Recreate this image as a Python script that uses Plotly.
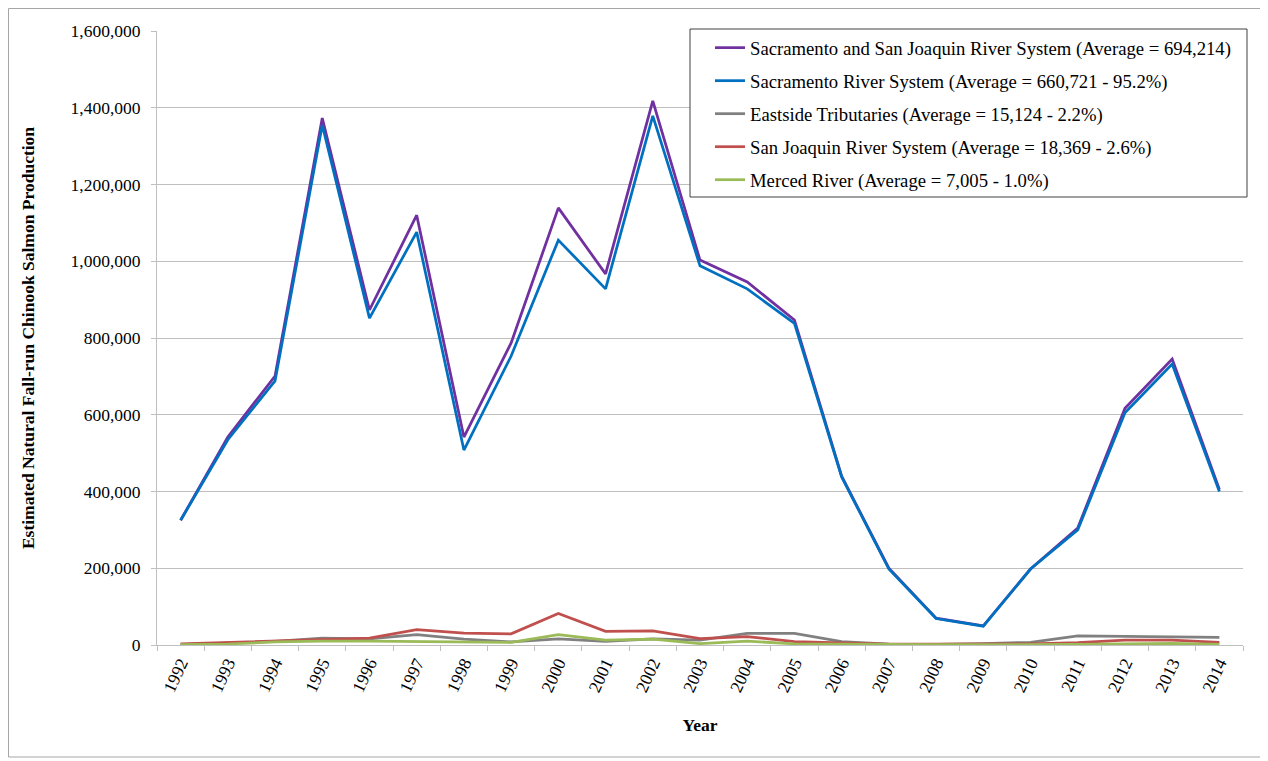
import plotly.graph_objects as go

years = [str(y) for y in range(1992, 2015)]

sac_sj_total = [325000, 542000, 701000, 1373000, 873000, 1120000, 542000, 787000, 1139000, 967000,
                1418000, 1003000, 946000, 847000, 440000, 200000, 70000, 50000, 198000, 305000,
                617000, 745000, 405000]
sacramento = [325000, 535000, 688000, 1355000, 852000, 1076000, 508000, 753000, 1055000, 928000,
              1379000, 988000, 928000, 838000, 438000, 198000, 69000, 49000, 198000, 300000,
              605000, 732000, 400000]
eastside = [1000, 5000, 9500, 18000, 16000, 27000, 15000, 8000, 16000, 9500,
            16000, 13000, 30000, 30000, 9000, 2600, 1700, 3500, 7000, 24000,
            22500, 20000, 20000]
san_joaquin = [3000, 7000, 11000, 14000, 18000, 40000, 31000, 29000, 82000, 35500,
               37000, 16500, 22000, 9000, 6000, 2600, 2000, 2000, 3000, 6000,
               13000, 13000, 7000]
merced = [1000, 2600, 8000, 10000, 10000, 8700, 8000, 7000, 27000, 13000,
          15000, 3500, 10000, 3000, 2000, 1000, 1000, 1000, 1000, 1500,
          3000, 4000, 1500]

series_names = [
    "Sacramento and San Joaquin River System (Average = 694,214)",
    "Sacramento River System (Average = 660,721 - 95.2%)",
    "Eastside Tributaries (Average = 15,124 - 2.2%)",
    "San Joaquin River System (Average = 18,369 - 2.6%)",
    "Merced River (Average = 7,005 - 1.0%)",
]
series_values = [sac_sj_total, sacramento, eastside, san_joaquin, merced]
series_colors = ["#7030A0", "#0070C0", "#808080", "#C0504D", "#9BBB59"]

y_title = "Estimated Natural Fall-run Chinook Salmon Production"
x_title = "Year"

FONT = "Liberation Serif"

# figure is placed at (8, 8) by the page's body margin
W, H = 1260, 753
PL, PR, PT, PB = 157 - 8, 1243 - 8, 31 - 8, 645 - 8

fig = go.Figure()
for i in range(5):
    fig.add_trace(go.Scatter(
        x=years, y=series_values[i], name=series_names[i], mode="lines",
        line=dict(color=series_colors[i], width=2.75),
        legendgroup=str(i), legendrank=i + 1,
    ))

pw = PR - PL
ph = PB - PT


def px_x(x):
    return (x - 8 - PL) / pw


def px_y(y):
    return (PB - (y - 8)) / ph


fig.update_layout(
    width=W, height=H,
    margin=dict(l=PL, r=W - PR, t=PT, b=H - PB),
    paper_bgcolor="white", plot_bgcolor="white",
    font=dict(family=FONT, size=17.5, color="black"),
    showlegend=True,
    legend=dict(
        x=px_x(710), xanchor="left", y=px_y(29), yanchor="top",
        bgcolor="rgba(0,0,0,0)", borderwidth=0,
        font=dict(family=FONT, size=18.7, color="black"),
        tracegroupgap=5.7, traceorder="grouped",
    ),
    xaxis=dict(
        type="category", tickson="boundaries", ticks="outside", ticklen=5,
        tickcolor="#BFBFBF", showline=True, linecolor="#BFBFBF", linewidth=1,
        showgrid=False, tickangle=-65, tickfont=dict(family=FONT, size=17.5),
        title=dict(text="<b>" + x_title + "</b>", font=dict(family=FONT, size=17.5), standoff=24),
        range=[-0.5, 22.5],
    ),
    yaxis=dict(
        range=[0, 1600000], dtick=200000, tickformat=",", ticks="outside", ticklen=5,
        tickcolor="#BFBFBF", showline=True, linecolor="#BFBFBF", linewidth=1,
        showgrid=True, gridcolor="#BFBFBF", gridwidth=1, zeroline=False,
        tickfont=dict(family=FONT, size=17.5), ticklabelstandoff=7,
        title=dict(text="<b>" + y_title + "</b>", font=dict(family=FONT, size=17.5), standoff=31),
    ),
    shapes=[
        dict(type="rect", xref="paper", yref="paper",
             x0=px_x(8.5), x1=px_x(1264), y0=px_y(757), y1=px_y(8.5),
             line=dict(color="#A6A6A6", width=1), fillcolor="rgba(0,0,0,0)", layer="below"),
        dict(type="rect", xref="paper", yref="paper",
             x0=px_x(690), x1=px_x(1247), y0=px_y(197), y1=px_y(29),
             line=dict(color="#404040", width=1), fillcolor="white", layer="above"),
    ],
)

fig.write_html("out.html")
